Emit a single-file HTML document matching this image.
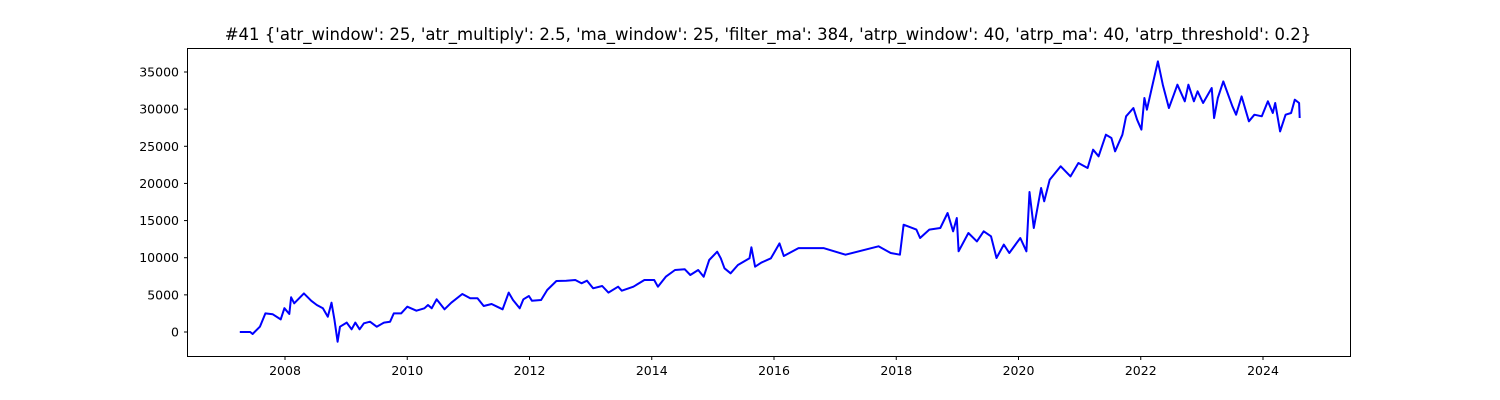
<!DOCTYPE html>
<html><head><meta charset="utf-8"><style>
html,body{margin:0;padding:0;background:#fff;}
svg{display:block;font-family:"DejaVu Sans","Liberation Sans",sans-serif;}
</style></head><body>
<svg id="chart" width="1500" height="400" viewBox="0 0 1500 400" xmlns="http://www.w3.org/2000/svg">
<text x="768" y="40" font-size="16.5" text-anchor="middle" fill="#000">#41 {'atr_window': 25, 'atr_multiply': 2.5, 'ma_window': 25, 'filter_ma': 384, 'atrp_window': 40, 'atrp_ma': 40, 'atrp_threshold': 0.2}</text>
<g id="plot"></g>
<rect x="187.5" y="48.5" width="1163" height="308" fill="none" stroke="#000" stroke-width="1"/>
</svg>
<script>
const years=[2007.26,2007.43,2007.47,2007.59,2007.68,2007.80,2007.93,2007.99,2008.07,2008.10,2008.15,2008.31,2008.43,2008.52,2008.62,2008.70,2008.76,2008.81,2008.86,2008.90,2009.01,2009.09,2009.15,2009.22,2009.29,2009.39,2009.50,2009.62,2009.72,2009.78,2009.90,2010.00,2010.15,2010.28,2010.34,2010.40,2010.48,2010.61,2010.72,2010.90,2011.03,2011.15,2011.25,2011.38,2011.47,2011.56,2011.66,2011.73,2011.84,2011.90,2011.99,2012.04,2012.19,2012.29,2012.44,2012.60,2012.75,2012.85,2012.94,2013.04,2013.19,2013.29,2013.45,2013.51,2013.70,2013.88,2014.04,2014.10,2014.23,2014.38,2014.54,2014.63,2014.76,2014.85,2014.94,2015.07,2015.13,2015.19,2015.29,2015.41,2015.60,2015.63,2015.69,2015.79,2015.95,2016.09,2016.16,2016.40,2016.81,2017.17,2017.71,2017.91,2018.06,2018.12,2018.33,2018.39,2018.54,2018.72,2018.84,2018.93,2018.99,2019.02,2019.18,2019.32,2019.43,2019.55,2019.64,2019.76,2019.85,2020.03,2020.13,2020.18,2020.25,2020.37,2020.42,2020.51,2020.69,2020.85,2020.98,2021.13,2021.22,2021.31,2021.43,2021.52,2021.58,2021.70,2021.76,2021.88,2021.94,2022.01,2022.06,2022.10,2022.18,2022.28,2022.36,2022.46,2022.54,2022.60,2022.72,2022.78,2022.87,2022.93,2023.02,2023.16,2023.20,2023.26,2023.35,2023.50,2023.56,2023.65,2023.77,2023.86,2023.98,2024.08,2024.16,2024.20,2024.28,2024.37,2024.46,2024.52,2024.59,2024.60];
const equity=[0,0,-270,720,2500,2380,1700,3200,2420,4670,3860,5200,4200,3630,3190,2060,3950,1600,-1300,720,1260,360,1260,360,1170,1390,720,1260,1390,2500,2500,3410,2870,3190,3630,3190,4400,3050,3950,5120,4530,4530,3500,3770,3410,3050,5300,4310,3190,4400,4850,4220,4310,5650,6860,6910,7000,6550,6910,5880,6190,5300,6100,5560,6100,7000,7000,6100,7450,8350,8440,7670,8350,7450,9690,10810,9920,8570,7900,9020,9920,11400,8790,9330,9920,11930,10230,11300,11300,10410,11530,10630,10410,14450,13780,12650,13780,14000,16020,13550,15350,10860,13330,12200,13550,12880,9960,11760,10630,12650,10860,18850,14000,19380,17590,20500,22300,20950,22750,22080,24540,23650,26560,26110,24320,26560,29030,30150,28580,27240,31500,29930,32850,36430,33290,30150,31950,33290,31050,33290,31050,32400,30830,32850,28810,31500,33740,30380,29250,31720,28360,29250,29030,31050,29480,30830,27010,29250,29480,31270,30830,28810];
const xTicks=[2008,2010,2012,2014,2016,2018,2020,2022,2024];
const yTicks=[0,5000,10000,15000,20000,25000,30000,35000];
const NS="http://www.w3.org/2000/svg";
const xs=v=>285+(v-2008)*61.125;
const ys=v=>332-v*0.0074286;
const g=document.getElementById('plot');
function mk(t,a){const e=document.createElementNS(NS,t);for(const k in a)e.setAttribute(k,a[k]);return e;}
xTicks.forEach(t=>{
  const l=mk('line',{x1:xs(t),x2:xs(t),y1:356.5,y2:360,stroke:'#000'});
  
  
  g.appendChild(l);
  const tx=mk('text',{x:xs(t),y:375,'font-size':'12.5','text-anchor':'middle'});
  
  
  tx.textContent=t;g.appendChild(tx);
});
yTicks.forEach(t=>{
  const l=mk('line',{x1:184,x2:187.5,y1:ys(t),y2:ys(t),stroke:'#000'});
  
  
  g.appendChild(l);
  const tx=mk('text',{x:179,y:ys(t)+4.5,'font-size':'12.5','text-anchor':'end'});
  
  
  tx.textContent=t;g.appendChild(tx);
});
const pts=years.map((y,i)=>xs(y).toFixed(1)+','+ys(equity[i]).toFixed(1)).join(' ');
const pl=mk('polyline',{points:pts,fill:'none',stroke:'#0000ff','stroke-width':'2','stroke-linejoin':'round'});


g.appendChild(pl);
</script>
</body></html>
